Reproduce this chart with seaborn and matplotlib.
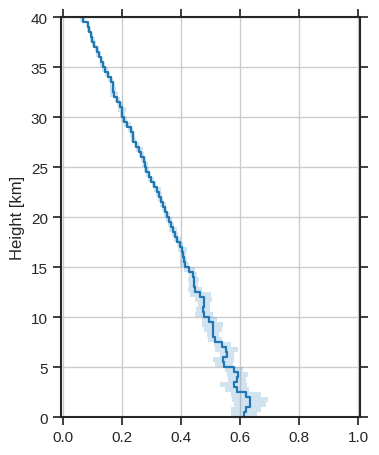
import numpy as np
import pandas as pd
import matplotlib
matplotlib.use("Agg")
import matplotlib.pyplot as plt
import seaborn as sns

# Height bins (bottom edges, km), 0.5 km resolution
height_bottom = [i * 0.5 for i in range(80)]
height_top = 40.0

# Profile values per bin
profile = [0.613, 0.620, 0.633, 0.633, 0.620, 0.590, 0.578, 0.590, 0.592, 0.580,
           0.545, 0.543, 0.555, 0.553, 0.540, 0.515, 0.508, 0.508, 0.507, 0.495,
           0.478, 0.474, 0.476, 0.476, 0.465, 0.447, 0.443, 0.442, 0.440, 0.428,
           0.412, 0.408, 0.406, 0.403, 0.395, 0.386, 0.378, 0.372, 0.365, 0.358,
           0.351, 0.344, 0.337, 0.330, 0.324, 0.318, 0.308, 0.298, 0.290, 0.282,
           0.276, 0.272, 0.265, 0.257, 0.247, 0.238, 0.235, 0.228, 0.217, 0.205,
           0.200, 0.199, 0.193, 0.183, 0.172, 0.168, 0.167, 0.160, 0.150, 0.141,
           0.134, 0.129, 0.120, 0.113, 0.104, 0.098, 0.095, 0.088, 0.082, 0.065]

# Half-width of the shaded uncertainty band per bin
spread = [0.045, 0.050, 0.055, 0.060, 0.050, 0.040, 0.045, 0.030, 0.035, 0.030,
          0.030, 0.035, 0.025, 0.040, 0.030, 0.025, 0.020, 0.030, 0.035, 0.025,
          0.030, 0.025, 0.020, 0.030, 0.035, 0.025, 0.015, 0.020, 0.015, 0.020,
          0.015, 0.012, 0.010, 0.015, 0.010, 0.012, 0.010, 0.015, 0.010, 0.010,
          0.010, 0.008, 0.010, 0.008, 0.010, 0.012, 0.008, 0.010, 0.008, 0.010,
          0.010, 0.008, 0.010, 0.012, 0.008, 0.010, 0.008, 0.010, 0.012, 0.010,
          0.008, 0.012, 0.010, 0.008, 0.015, 0.010, 0.008, 0.010, 0.008, 0.010,
          0.008, 0.006, 0.008, 0.007, 0.006, 0.008, 0.006, 0.007, 0.006, 0.008]

yticks = [0, 5, 10, 15, 20, 25, 30, 35, 40]
xticks = [0.0, 0.2, 0.4, 0.6, 0.8, 1.0]
ylabel = "Height [km]"

sns.set_theme(context="notebook", style="ticks", rc={"axes.grid": True})
plt.rcParams["font.family"] = ["Liberation Sans", "DejaVu Sans"]

fig = plt.figure(figsize=(3.79, 4.56), dpi=100)
ax = fig.add_axes([0.161, 0.0833, 0.789, 0.8772])

h_edges = np.append(height_bottom, height_top)
x_edges = np.append(profile, profile[-1])
lo = np.append(np.array(profile) - np.array(spread), profile[-1] - spread[-1])
hi = np.append(np.array(profile) + np.array(spread), profile[-1] + spread[-1])

color = "#1f77b4"
ax.fill_betweenx(h_edges, lo, hi, step="post", color=color, alpha=0.2, linewidth=0)

df = pd.DataFrame({"x": x_edges, "h": h_edges})
sns.lineplot(data=df, x="x", y="h", orient="y", sort=False, ax=ax,
             drawstyle="steps-pre", color=color, linewidth=1.6)

ax.set_xlim(-0.008, 1.007)
ax.set_ylim(0, 40)
ax.set_xticks(xticks)
ax.set_yticks(yticks)
ax.set_xlabel("")
ax.set_ylabel(ylabel, fontsize=12)
ax.tick_params(axis="both", which="major", direction="out", length=6, width=1.25,
               top=True, right=True, labelsize=11, color="#262626")
for s in ax.spines.values():
    s.set_visible(True)
    s.set_color("#262626")
    s.set_linewidth(1.5)
ax.grid(True, color="#cccccc", linewidth=1)

fig.savefig("out.png", dpi=100)
